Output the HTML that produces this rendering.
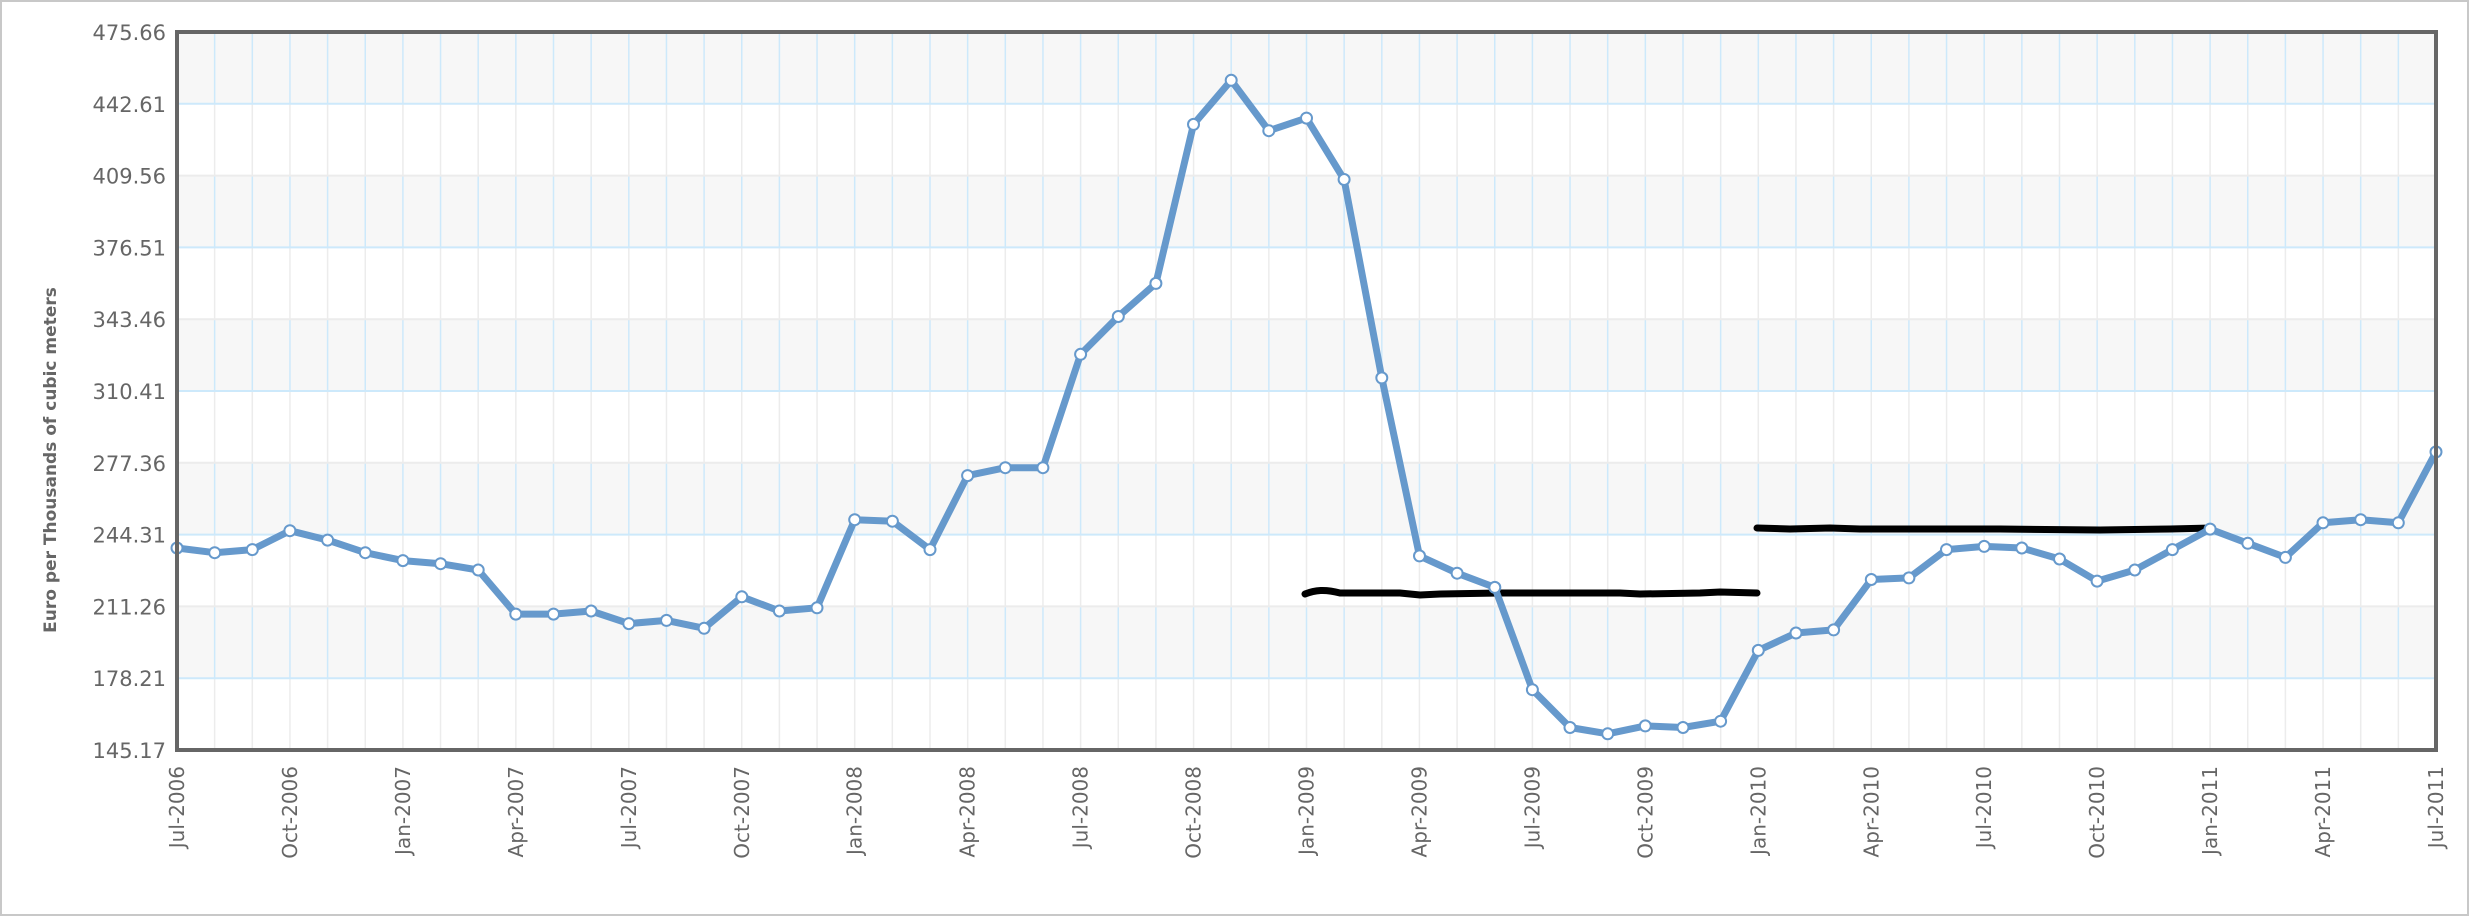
<!DOCTYPE html>
<html><head><meta charset="utf-8"><style>
html,body{margin:0;padding:0;background:#fff;}
svg{display:block;}
text{font-family:"DejaVu Sans","Liberation Sans",sans-serif;fill:#666;}
</style></head><body>
<svg id="c" width="2469" height="916" xmlns="http://www.w3.org/2000/svg"></svg>
<script>
const L=177,R=2436,T=32,B=750,N=60,dx=(R-L)/N,bh=(B-T)/10;
const ydisp=[348,351,349,337,343,351,356,358,362,390,390,388,396,394,399,379,388,386,330,331,349,302,297,297,225,201,180,79,51,83,75,114,240,353,364,373,438,462,466,461,462,458,413,402,400,368,367,349,347,348,355,369,362,349,336,345,354,332,330,332,287];
let s='<rect x="1" y="1" width="2467" height="914" fill="#fff" stroke="#c8c8c8" stroke-width="2"/>';
for(let b=0;b<10;b++){
  const y0=T+b*bh, gray=(b%2==0);
  s+=`<rect x="${L}" y="${y0}" width="${R-L}" height="${bh}" fill="${gray?'#f7f7f7':'#fff'}"/>`;
  for(let i=1;i<N;i++){const x=L+i*dx;s+=`<line x1="${x}" y1="${y0}" x2="${x}" y2="${y0+bh}" stroke="${gray?'#cde9fb':'#ececec'}" stroke-width="1.5"/>`;}
}
for(let b=1;b<10;b++){const y=T+b*bh;s+=`<line x1="${L}" y1="${y}" x2="${R}" y2="${y}" stroke="${b%2==1?'#cde9fb':'#ececec'}" stroke-width="2"/>`;}
const labs=["475.66","442.61","409.56","376.51","343.46","310.41","277.36","244.31","211.26","178.21","145.17"];
labs.forEach((t,k)=>{s+=`<text x="166" y="${T+k*bh+8}" font-size="21" text-anchor="end">${t}</text>`;});
const mon=["Jul","Oct","Jan","Apr"];
for(let i=0;i<=N;i+=3){
  const x=L+i*dx; const m=i/3; const mm=mon[m%4]; const yr=2006+Math.floor((m+2)/4);
  s+=`<text transform="translate(${x+7},766) rotate(-90)" font-size="20" text-anchor="end">${mm}-${yr}</text>`;
}
s+=`<text transform="translate(56,460) rotate(-90)" font-size="17" font-weight="bold" text-anchor="middle">Euro per Thousands of cubic meters</text>`;
s+=`<path d="M1305 594 C1315 590 1325 589 1340 593 L1400 593 L1420 595 L1440 594 L1500 593 L1620 593 L1640 594 L1700 593 L1720 592 L1757 593" fill="none" stroke="#000" stroke-width="7" stroke-linecap="round"/>`;
s+=`<path d="M1757 528 L1790 529 L1830 528 L1860 529 L1900 529 L2000 529 L2100 530 L2170 529 L2212 528" fill="none" stroke="#000" stroke-width="7" stroke-linecap="round"/>`;
let p='';ydisp.forEach((y,i)=>{p+=(i?'L':'M')+(L+i*dx).toFixed(1)+' '+(y*1.5747).toFixed(1)+' ';});
s+=`<path d="${p}" fill="none" stroke="#6699cc" stroke-width="7" stroke-linejoin="round"/>`;
ydisp.forEach((y,i)=>{s+=`<circle cx="${(L+i*dx).toFixed(1)}" cy="${(y*1.5747).toFixed(1)}" r="5.5" fill="#fff" stroke="#6699cc" stroke-width="2"/>`;});
s+=`<rect x="${L}" y="${T}" width="${R-L}" height="${B-T}" fill="none" stroke="#666" stroke-width="4"/>`;
document.getElementById('c').innerHTML=s;
</script>
</body></html>
